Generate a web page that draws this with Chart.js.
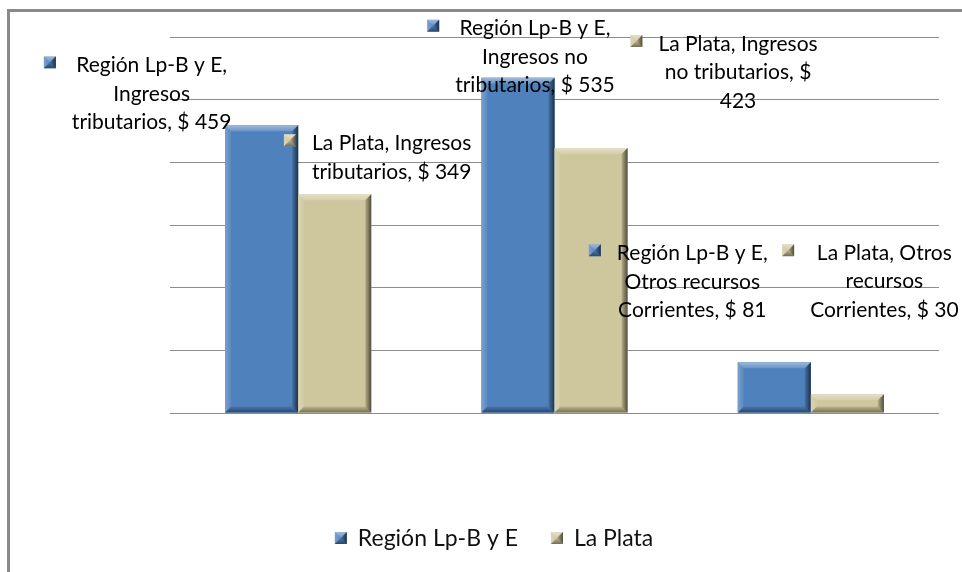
<!DOCTYPE html>
<html>
<head>
<meta charset="utf-8">
<script src="https://cdn.jsdelivr.net/npm/chart.js@4.4.1/dist/chart.umd.min.js"></script>
<style>
  html, body { margin: 0; padding: 0; background: #fff; overflow: hidden; }
  #frame { position: absolute; left: 7px; top: 9px; width: 2000px; height: 2000px; border: 3px solid #8a8a8a; box-sizing: border-box; }
  #wrap { position: absolute; left: 0; top: 0; width: 962px; height: 572px; }
</style>
</head>
<body>
<div id="frame"></div>
<div id="wrap"><canvas id="barChart"></canvas></div>
<script>
// Ingresos corrientes: Región Lp-B y E vs La Plata
const categories = ['Ingresos tributarios', 'Ingresos no tributarios', 'Otros recursos Corrientes'];
const seriesNames = ['Región Lp-B y E', 'La Plata'];
const regionValues = [459, 535, 81];
const laPlataValues = [349, 423, 30];
const axisMax = 600;
const axisStep = 100;

const BLUE = '#4f81bd';
const TAN = '#cec69c';
const FONT = 'Lato, "Open Sans", sans-serif';

// where each data label sits, relative to the top centre of its bar
const labelOffsets = [
  [[-110, -60], [17, -49], [-82, -109]],
  [[57, -51], [147, -104], [37, -141]]
];

// bevelled rectangle, the same look is used for bars and legend keys
function bevelRect(ctx, l, t, r, b, color, size) {
  const s = Math.min(size, (r - l) / 2, (b - t) / 2);
  ctx.save();
  ctx.fillStyle = color;
  ctx.fillRect(l, t, r - l, b - t);

  const poly = (pts, fill) => {
    ctx.beginPath();
    ctx.moveTo(pts[0][0], pts[0][1]);
    for (let i = 1; i < pts.length; i++) ctx.lineTo(pts[i][0], pts[i][1]);
    ctx.closePath();
    ctx.fillStyle = fill;
    ctx.fill();
  };

  // top
  let g = ctx.createLinearGradient(0, t, 0, t + s);
  g.addColorStop(0, 'rgba(255,255,255,0.45)');
  g.addColorStop(1, 'rgba(255,255,255,0.15)');
  poly([[l, t], [r, t], [r - s, t + s], [l + s, t + s]], g);
  // left
  g = ctx.createLinearGradient(l, 0, l + s, 0);
  g.addColorStop(0, 'rgba(255,255,255,0.25)');
  g.addColorStop(1, 'rgba(255,255,255,0.05)');
  poly([[l, t], [l + s, t + s], [l + s, b - s], [l, b]], g);
  // right
  g = ctx.createLinearGradient(r - s, 0, r, 0);
  g.addColorStop(0, 'rgba(0,0,0,0.12)');
  g.addColorStop(1, 'rgba(0,0,0,0.62)');
  poly([[r, t], [r, b], [r - s, b - s], [r - s, t + s]], g);
  // bottom
  g = ctx.createLinearGradient(0, b - s, 0, b);
  g.addColorStop(0, 'rgba(0,0,0,0.08)');
  g.addColorStop(1, 'rgba(0,0,0,0.45)');
  poly([[l, b], [r, b], [r - s, b - s], [l + s, b - s]], g);
  ctx.restore();
}

function wrapText(ctx, text, maxWidth) {
  const words = text.split(' ');
  const lines = [];
  let cur = '';
  words.forEach(w => {
    const test = cur ? cur + ' ' + w : w;
    if (cur && ctx.measureText(test).width > maxWidth) {
      lines.push(cur);
      cur = w;
    } else {
      cur = test;
    }
  });
  if (cur) lines.push(cur);
  return lines;
}

const bevelBars = {
  id: 'bevelBars',
  afterDatasetsDraw(chart) {
    const ctx = chart.ctx;
    chart.data.datasets.forEach((ds, di) => {
      chart.getDatasetMeta(di).data.forEach(bar => {
        const p = bar.getProps(['x', 'y', 'base', 'width'], true);
        bevelRect(ctx, p.x - p.width / 2, p.y, p.x + p.width / 2, p.base, ds.backgroundColor, 6);
      });
    });
  }
};

const barLabels = {
  id: 'barLabels',
  afterDraw(chart) {
    const ctx = chart.ctx;
    ctx.save();
    ctx.font = '21px ' + FONT;
    ctx.fillStyle = '#000';
    ctx.textBaseline = 'middle';
    ctx.textAlign = 'center';
    const lineH = 28.5;
    chart.data.datasets.forEach((ds, di) => {
      chart.getDatasetMeta(di).data.forEach((bar, i) => {
        const text = ds.label + ', ' + chart.data.labels[i] + ', $ ' + ds.data[i];
        const lines = wrapText(ctx, text, 162);
        const cx = bar.x + labelOffsets[di][i][0];
        const y0 = bar.y + labelOffsets[di][i][1];
        const boxW = Math.max(...lines.map(s => ctx.measureText(s).width));
        lines.forEach((s, k) => ctx.fillText(s, cx, y0 + k * lineH));
        const mx = cx - boxW / 2 - 22;
        bevelRect(ctx, mx - 6, y0 - 9, mx + 6, y0 + 3, ds.backgroundColor, 6);
      });
    });

    // legend under the plot
    ctx.font = '23px ' + FONT;
    ctx.textAlign = 'left';
    ctx.fillStyle = '#111';
    const gapKey = 11, gapItem = 33, key = 12;
    const widths = chart.data.datasets.map(ds => key + gapKey + ctx.measureText(ds.label).width);
    const total = widths.reduce((a, b) => a + b, 0) + gapItem * (widths.length - 1);
    let x = 494 - total / 2;
    const ly = 538;
    chart.data.datasets.forEach((ds, di) => {
      bevelRect(ctx, x, ly - 6, x + key, ly + 6, ds.backgroundColor, 6);
      ctx.fillText(ds.label, x + key + gapKey, ly + 1);
      x += widths[di] + gapItem;
    });
    ctx.restore();
  }
};

new Chart(document.getElementById('barChart'), {
  type: 'bar',
  data: {
    labels: categories,
    datasets: [
      { label: seriesNames[0], data: regionValues, backgroundColor: BLUE },
      { label: seriesNames[1], data: laPlataValues, backgroundColor: TAN }
    ]
  },
  options: {
    responsive: true,
    maintainAspectRatio: false,
    animation: false,
    categoryPercentage: 0.57,
    barPercentage: 1,
    layout: { padding: { left: 170, right: 23, top: 37, bottom: 159 } },
    plugins: {
      legend: { display: false },
      tooltip: { enabled: false }
    },
    scales: {
      x: { display: false },
      y: {
        min: 0,
        max: axisMax,
        ticks: { display: false, stepSize: axisStep },
        border: { display: false },
        grid: { color: '#8c8c8c', lineWidth: 1, drawTicks: false }
      }
    }
  },
  plugins: [bevelBars, barLabels]
});
</script>
</body>
</html>
